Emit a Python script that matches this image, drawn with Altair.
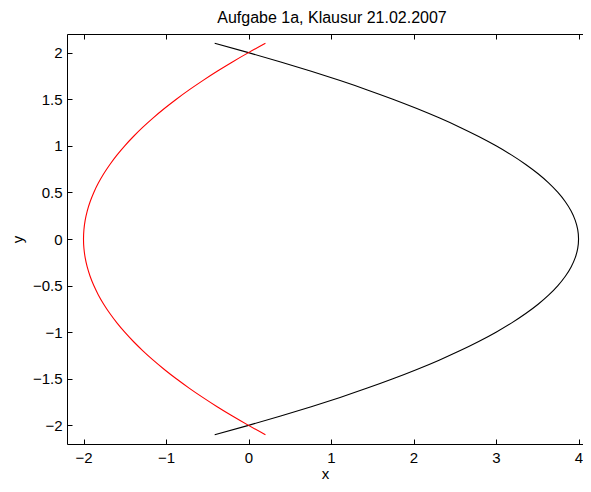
import altair as alt
import pandas as pd

# y samples along both curves
y_vals = [-2.1, -2.0, -1.9, -1.8, -1.7, -1.6, -1.5, -1.4, -1.3, -1.2, -1.1,
          -1.0, -0.9, -0.8, -0.7, -0.6, -0.5, -0.4, -0.3, -0.2, -0.1, 0.0,
          0.1, 0.2, 0.3, 0.4, 0.5, 0.6, 0.7, 0.8, 0.9, 1.0,
          1.1, 1.2, 1.3, 1.4, 1.5, 1.6, 1.7, 1.8, 1.9, 2.0, 2.1]

# black curve x values
black_x = [-0.41, 0.0, 0.39, 0.76, 1.11, 1.44, 1.75, 2.04, 2.31, 2.56, 2.79,
           3.0, 3.19, 3.36, 3.51, 3.64, 3.75, 3.84, 3.91, 3.96, 3.99, 4.0,
           3.99, 3.96, 3.91, 3.84, 3.75, 3.64, 3.51, 3.36, 3.19, 3.0,
           2.79, 2.56, 2.31, 2.04, 1.75, 1.44, 1.11, 0.76, 0.39, 0.0, -0.41]

# red curve x values
red_x = [0.205, 0.0, -0.195, -0.38, -0.555, -0.72, -0.875, -1.02, -1.155, -1.28, -1.395,
         -1.5, -1.595, -1.68, -1.755, -1.82, -1.875, -1.92, -1.955, -1.98, -1.995, -2.0,
         -1.995, -1.98, -1.955, -1.92, -1.875, -1.82, -1.755, -1.68, -1.595, -1.5,
         -1.395, -1.28, -1.155, -1.02, -0.875, -0.72, -0.555, -0.38, -0.195, 0.0, 0.205]

x_ticks = [-2, -1, 0, 1, 2, 3, 4]
y_ticks = [-2, -1.5, -1, -0.5, 0, 0.5, 1, 1.5, 2]

df_black = pd.DataFrame({"i": range(len(y_vals)), "y": y_vals, "x": black_x})
df_red = pd.DataFrame({"i": range(len(y_vals)), "y": y_vals, "x": red_x})

W, H = 516, 410
FONT = "Liberation Sans"
xs = alt.Scale(domain=[-2.2, 4.054], nice=False, zero=False)
ys = alt.Scale(domain=[-2.2, 2.2], nice=False, zero=False)

common = dict(grid=False, domainColor="black", domainWidth=1, tickColor="black",
              tickWidth=1, tickSize=5, labelFont=FONT, labelFontSize=15,
              labelColor="black", titleFont=FONT, titleFontSize=15,
              titleFontWeight="normal", titleColor="black")

# main axes: labels + spines (bottom / left)
x_main = alt.Axis(orient="bottom", values=x_ticks, format="~g", ticks=False, domain=True,
                  labelPadding=6, title="x", titlePadding=1, **common)
y_main = alt.Axis(orient="left", values=y_ticks, format="~g", ticks=False, domain=True,
                  labelPadding=5, title="y", titlePadding=7, **common)
# inward ticks at top + top spine, inward ticks at left
x_top = alt.Axis(orient="bottom", offset=-H, values=x_ticks, labels=False, ticks=True,
                 domain=True, title=None, **common)
y_leftin = alt.Axis(orient="right", offset=-W, values=y_ticks, labels=False, ticks=True,
                    domain=False, title=None, **common)
# inward ticks at bottom
x_botin = alt.Axis(orient="top", offset=-H, values=x_ticks, labels=False, ticks=True,
                   domain=False, title=None, **common)

black = alt.Chart(df_black).mark_line(color="black", strokeWidth=1.1, interpolate="natural").encode(
    x=alt.X("x:Q", scale=xs, axis=x_main),
    y=alt.Y("y:Q", scale=ys, axis=y_main),
    order="i:Q",
)
red = alt.Chart(df_red).mark_line(color="#ff0000", strokeWidth=1.1, interpolate="natural").encode(
    x=alt.X("x:Q", scale=xs, axis=x_top),
    y=alt.Y("y:Q", scale=ys, axis=y_leftin),
    order="i:Q",
)
ghost = alt.Chart(df_red).mark_line(strokeOpacity=0).encode(
    x=alt.X("x:Q", scale=xs, axis=x_botin),
    y=alt.Y("y:Q", scale=ys, axis=None),
    order="i:Q",
)

chart = alt.layer(black, red, ghost).resolve_axis(
    x="independent", y="independent"
).properties(
    width=W, height=H,
    title=alt.TitleParams("Aufgabe 1a, Klausur 21.02.2007", font=FONT, fontSize=16,
                          fontWeight="normal", color="black", anchor="middle",
                          frame="group", dx=7, offset=8),
    autosize=alt.AutoSizeParams(type="none"),
    padding={"left": 59, "top": 26, "right": 0, "bottom": 40},
).configure_view(stroke=None).configure(background="white")

chart.save("out.html", embed_options={"renderer": "svg", "actions": False})
